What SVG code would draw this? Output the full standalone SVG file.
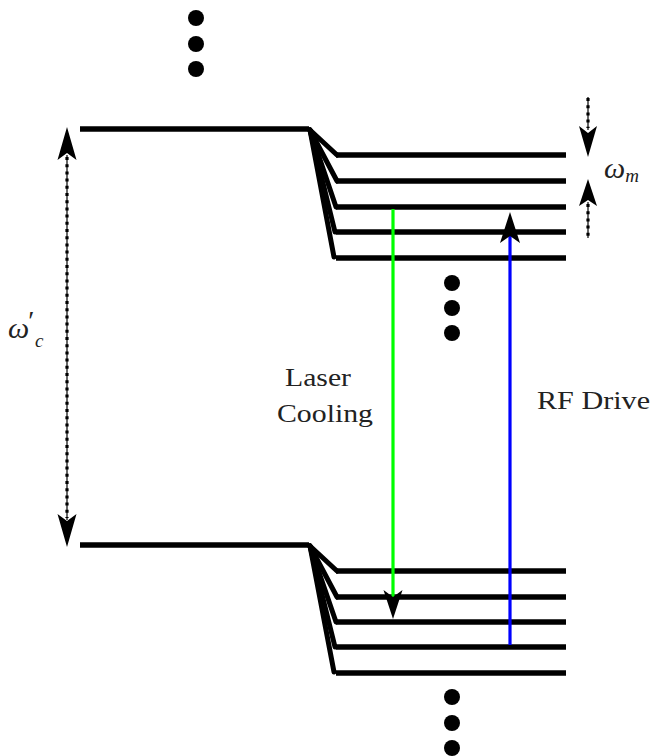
<svg xmlns="http://www.w3.org/2000/svg" width="656" height="756" viewBox="0 0 656 756">
<style>
.lvl{stroke:#000;stroke-width:5.5;fill:none;stroke-linecap:butt}
.fan{stroke:#000;stroke-width:5;fill:none;stroke-linecap:round}
.dotl{stroke:#000;stroke-width:1.2;fill:none}
.dots{stroke:#000;stroke-width:3.2;fill:none;stroke-dasharray:3 4.2}
.head{fill:#000}
.txt{font-family:"Liberation Serif",serif;font-size:26px;fill:#222}
.math{font-family:"Liberation Serif",serif;font-style:italic;fill:#222}
</style>
<rect width="656" height="756" fill="#fff"/>
<g id="top-dots" fill="#000"><circle cx="196" cy="18" r="8"/><circle cx="196" cy="44" r="8"/><circle cx="196" cy="69" r="8"/></g>
<g id="mid-dots" fill="#000"><circle cx="452" cy="283" r="8"/><circle cx="452" cy="308" r="8"/><circle cx="452" cy="333" r="8"/></g>
<g id="bot-dots" fill="#000"><circle cx="452" cy="697" r="8"/><circle cx="452" cy="723" r="8"/><circle cx="452" cy="748" r="8"/></g>
<g id="upper-manifold">
<line class="lvl" x1="80" y1="129" x2="309" y2="129"/>
<line class="fan" x1="310" y1="130" x2="337" y2="155"/>
<line class="fan" x1="310" y1="130" x2="337" y2="181"/>
<line class="fan" x1="310" y1="130" x2="336" y2="207"/>
<line class="fan" x1="310" y1="130" x2="335" y2="232"/>
<line class="fan" x1="310" y1="130" x2="334" y2="257"/>
<line class="lvl" x1="336" y1="155" x2="566" y2="155"/>
<line class="lvl" x1="336" y1="181" x2="566" y2="181"/>
<line class="lvl" x1="336" y1="207" x2="566" y2="207"/>
<line class="lvl" x1="336" y1="232" x2="566" y2="232"/>
<line class="lvl" x1="336" y1="258" x2="566" y2="258"/>
</g>
<g id="lower-manifold">
<line class="lvl" x1="80" y1="545" x2="309" y2="545"/>
<line class="fan" x1="310" y1="546" x2="337" y2="571"/>
<line class="fan" x1="310" y1="546" x2="337" y2="597"/>
<line class="fan" x1="310" y1="546" x2="336" y2="622"/>
<line class="fan" x1="310" y1="546" x2="335" y2="647"/>
<line class="fan" x1="310" y1="546" x2="334" y2="672"/>
<line class="lvl" x1="336" y1="571" x2="566" y2="571"/>
<line class="lvl" x1="336" y1="597" x2="566" y2="597"/>
<line class="lvl" x1="336" y1="622" x2="566" y2="622"/>
<line class="lvl" x1="336" y1="647" x2="566" y2="647"/>
<line class="lvl" x1="336" y1="673" x2="566" y2="673"/>
</g>
<g id="connectors">
<g id="omega-c-arrow">
<line class="dotl" x1="67" y1="155" x2="67" y2="520"/>
<line class="dots" x1="67" y1="157" x2="67" y2="518"/>
<path class="head" d="M67,127 L76.5,160 L67,153 L57.5,160 Z"/>
<path class="head" d="M67,547 L76.5,514 L67,521 L57.5,514 Z"/>
</g>
<g id="omega-m-arrows">
<line class="dotl" x1="588" y1="97" x2="588" y2="130"/>
<line class="dots" x1="588" y1="98" x2="588" y2="128"/>
<path class="head" d="M588,157 L597,126 L588,133 L579,126 Z"/>
<line class="dotl" x1="588" y1="202" x2="588" y2="238"/>
<line class="dots" x1="588" y1="204" x2="588" y2="238"/>
<path class="head" d="M588,179 L597,206 L588,200 L579,206 Z"/>
</g>
<g id="laser-cooling">
<line x1="393" y1="209" x2="393" y2="598" stroke="#00ff00" stroke-width="3.2"/>
<path class="head" d="M393,619 L402.5,590 L393,597 L383.5,590 Z"/>
</g>
<g id="rf-drive">
<line x1="510" y1="645" x2="510" y2="235" stroke="#0000ff" stroke-width="3.2"/>
<path class="head" d="M510,212 L520,243 L510,236 L500,243 Z"/>
</g>
</g>
<g id="labels">
<text class="txt" x="285" y="386" textLength="66" lengthAdjust="spacingAndGlyphs">Laser</text>
<text class="txt" x="277" y="422" textLength="96" lengthAdjust="spacingAndGlyphs">Cooling</text>
<text class="txt" x="537" y="409" textLength="113" lengthAdjust="spacingAndGlyphs">RF Drive</text>
<text class="math" x="604" y="178" font-size="30">ω<tspan font-size="19" dy="4">m</tspan></text>
<text class="math" x="8" y="338" font-size="30">ω<tspan font-size="28" font-style="normal" dx="-1" dy="-8">′</tspan></text>
<text class="math" x="35" y="347" font-size="19">c</text>
</g>
</svg>
